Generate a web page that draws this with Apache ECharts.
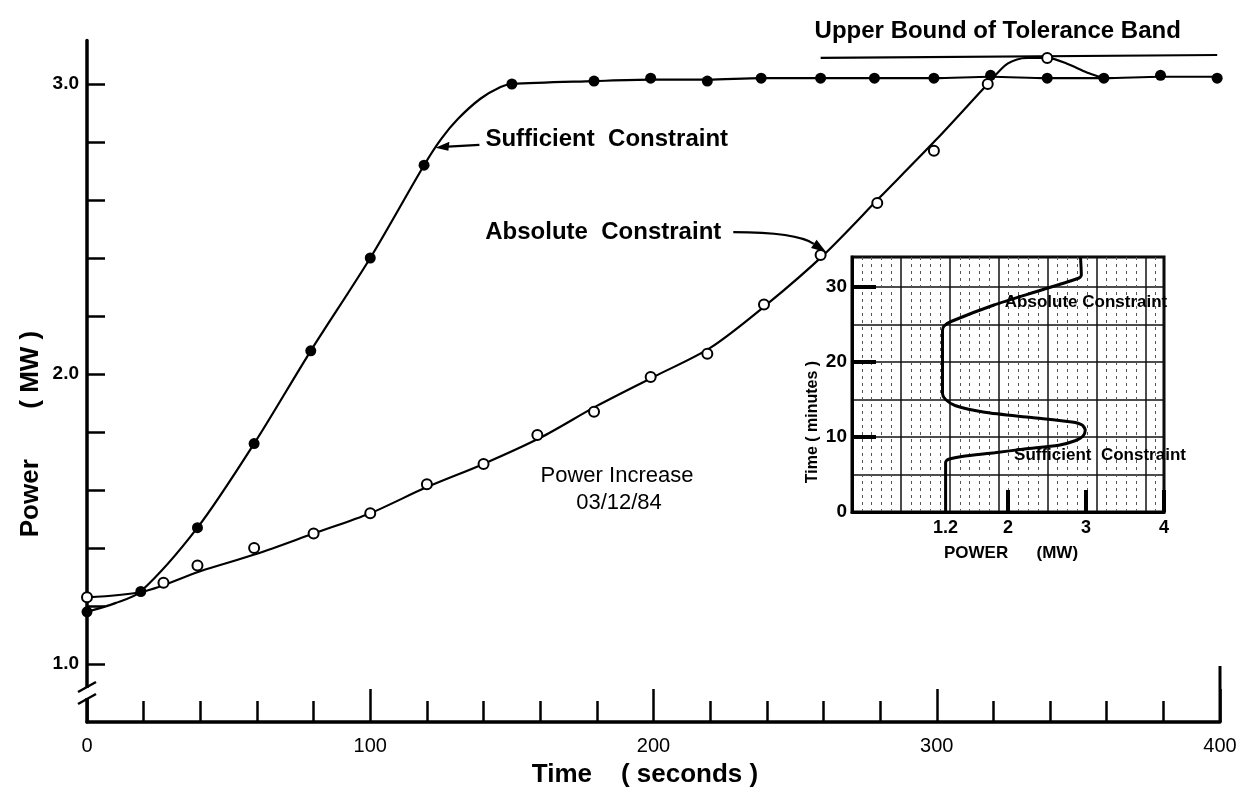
<!DOCTYPE html>
<html><head><meta charset="utf-8">
<script src="https://cdn.jsdelivr.net/npm/echarts@6/dist/echarts.min.js"></script>
<style>html,body{margin:0;padding:0;background:#fff}#c{width:1249px;height:800px}</style>
</head><body><div id="c"></div>
<script>
// ---------- data ----------
// Main chart: Power (MW) vs Time (seconds)
const suffTimes  = [0, 19, 39, 59, 79, 100, 119, 150, 179, 199, 219, 238, 259, 278, 299, 319, 339, 359, 379, 399];
const suffPower  = [1.18, 1.25, 1.47, 1.76, 2.08, 2.40, 2.72, 3.00, 3.01, 3.02, 3.01, 3.02, 3.02, 3.02, 3.02, 3.03, 3.02, 3.02, 3.03, 3.02];
const suffCurveTimes = [0, 10, 19, 39, 59, 79, 100, 119, 125, 131, 139, 146, 150, 179, 199, 219, 238, 259, 278, 299, 319, 339, 359, 379, 399];
const suffCurvePower = [1.18, 1.21, 1.25, 1.47, 1.76, 2.08, 2.40, 2.72, 2.81, 2.88, 2.95, 2.99, 3.00, 3.01, 3.015, 3.015, 3.02, 3.02, 3.02, 3.02, 3.025, 3.02, 3.02, 3.025, 3.025];

const absTimes  = [0, 27, 39, 59, 80, 100, 120, 140, 159, 179, 199, 219, 239, 259, 279, 299, 318, 339];
const absPower  = [1.23, 1.28, 1.34, 1.40, 1.45, 1.52, 1.62, 1.69, 1.79, 1.87, 1.99, 2.07, 2.24, 2.41, 2.59, 2.77, 3.00, 3.09];
const absCurveTimes = [0, 20, 40, 60, 80, 100, 120, 140, 160, 180, 200, 220, 240, 260, 280, 300, 318, 325, 332, 339, 346, 353, 359];
const absCurvePower = [1.23, 1.25, 1.32, 1.38, 1.45, 1.52, 1.61, 1.69, 1.78, 1.89, 1.99, 2.09, 2.24, 2.41, 2.61, 2.81, 3.00, 3.07, 3.09, 3.09, 3.07, 3.04, 3.02];

const toleranceTimes = [259, 399];
const tolerancePower = [3.09, 3.10];

const xLabelValues = [0, 100, 200, 300, 400];
const yTickValues  = [1.0, 1.2, 1.4, 1.6, 1.8, 2.0, 2.2, 2.4, 2.6, 2.8, 3.0];
const yLabelValues = [1.0, 2.0, 3.0];

// Inset: Time (minutes) vs POWER (MW)
const insetTime  = [0, 6.6, 7.0, 7.4, 7.9, 8.4, 8.9, 9.5, 10.1, 10.9, 11.6, 12.0, 12.6, 13.3, 14.2, 15.0, 15.8, 24.2, 24.8, 25.4, 27.6, 29.6, 31.2, 31.6, 33.9];
const insetPower = [1.2, 1.2, 1.23, 1.41, 1.83, 2.21, 2.65, 2.86, 2.96, 2.99, 2.95, 2.82, 2.30, 1.70, 1.32, 1.20, 1.16, 1.16, 1.18, 1.27, 1.82, 2.43, 2.91, 2.94, 2.93];
const insetXLabels = [1.2, 2, 3, 4];
const insetXTicks  = [2, 3, 4];
const insetYLabels = [0, 10, 20, 30];
const insetYTicks  = [10, 20, 30];

// ---------- chart ----------
const FONT = '"Liberation Sans", Arial, sans-serif';
const zip = (a, b) => a.map((v, i) => [v, b[i]]);
const chart = echarts.init(document.getElementById('c'), null, {renderer: 'canvas'});
const black = '#000';

chart.setOption({
  animation: false,
  backgroundColor: '#fff',
  textStyle: {fontFamily: FONT, color: black},
  grid: [
    {left: 87, right: 29, top: 40.5, height: 681.5, outerBoundsMode: 'none', containLabel: false},
    {left: 852, width: 312, top: 257, height: 255, show: true, borderColor: black, borderWidth: 3,
     backgroundColor: 'transparent', outerBoundsMode: 'none', containLabel: false}
  ],
  xAxis: [
    {gridIndex: 0, type: 'value', min: 0, max: 400, interval: 100, position: 'bottom',
     axisLine: {show: true, onZero: false, lineStyle: {color: black, width: 3.5}},
     axisTick: {show: true, inside: true, length: 33, lineStyle: {color: black, width: 2.5}},
     minorTick: {show: true, splitNumber: 5, length: 21, lineStyle: {color: black, width: 2.5}},
     axisLabel: {show: true, customValues: xLabelValues, color: black, fontSize: 20, fontFamily: FONT, margin: 14},
     splitLine: {show: false}},
    {gridIndex: 1, type: 'value', min: 0, max: 4, position: 'bottom',
     axisLine: {show: true, onZero: false, lineStyle: {color: black, width: 3}},
     axisTick: {show: true, inside: true, length: 22, customValues: insetXTicks, lineStyle: {color: black, width: 4}},
     axisLabel: {show: true, customValues: insetXLabels, formatter: v => String(v), color: black, fontSize: 18,
                 fontWeight: 'bold', fontFamily: FONT, margin: 7},
     splitLine: {show: false}},
    {gridIndex: 1, type: 'value', min: 0, max: 6.37, interval: 1, position: 'top',
     axisLine: {show: false}, axisTick: {show: false}, axisLabel: {show: false},
     minorTick: {show: false, splitNumber: 5},
     splitLine: {show: true, lineStyle: {color: '#111', width: 1.5}},
     minorSplitLine: {show: true, lineStyle: {color: '#555', width: 1, type: [3, 4]}}}
  ],
  yAxis: [
    {gridIndex: 0, type: 'value', min: 0.8, max: 3.15,
     axisLine: {show: true, onZero: false, lineStyle: {color: black, width: 3.5}},
     axisTick: {show: true, inside: true, length: 18, customValues: yTickValues, lineStyle: {color: black, width: 2.5}},
     axisLabel: {show: true, customValues: yLabelValues, formatter: v => Number(v).toFixed(1), color: black,
                 fontSize: 19, fontWeight: 'bold', fontFamily: FONT, margin: 8},
     splitLine: {show: false}},
    {gridIndex: 1, type: 'value', min: 0, max: 34,
     axisLine: {show: true, onZero: false, lineStyle: {color: black, width: 3}},
     axisTick: {show: true, inside: true, length: 24, customValues: insetYTicks, lineStyle: {color: black, width: 4}},
     axisLabel: {show: true, customValues: insetYLabels, color: black, fontSize: 19, fontWeight: 'bold', fontFamily: FONT, margin: 5},
     splitLine: {show: false}},
    {gridIndex: 1, type: 'value', min: 0, max: 34, interval: 5, position: 'right',
     axisLine: {show: false}, axisTick: {show: false}, axisLabel: {show: false},
     splitLine: {show: true, lineStyle: {color: '#111', width: 1.5}}}
  ],
  series: [
    {type: 'line', xAxisIndex: 0, yAxisIndex: 0, data: zip(suffCurveTimes, suffCurvePower), showSymbol: false,
     smooth: 0.3, lineStyle: {color: black, width: 2.2}, z: 3, silent: true},
    {type: 'line', xAxisIndex: 0, yAxisIndex: 0, data: zip(absCurveTimes, absCurvePower), showSymbol: false,
     smooth: 0.3, lineStyle: {color: black, width: 2.2}, z: 3, silent: true},
    {type: 'line', xAxisIndex: 0, yAxisIndex: 0, data: zip(toleranceTimes, tolerancePower), showSymbol: false,
     lineStyle: {color: black, width: 2.2}, z: 3, silent: true},
    {type: 'scatter', xAxisIndex: 0, yAxisIndex: 0, data: zip(suffTimes, suffPower), symbol: 'circle', symbolSize: 11,
     itemStyle: {color: black, opacity: 1}, z: 5, silent: true},
    {type: 'scatter', xAxisIndex: 0, yAxisIndex: 0, data: zip(absTimes, absPower), symbol: 'circle', symbolSize: 10,
     itemStyle: {color: '#fff', borderColor: black, borderWidth: 2, opacity: 1}, z: 6, silent: true},
    {type: 'line', xAxisIndex: 1, yAxisIndex: 1, data: zip(insetPower, insetTime), showSymbol: false,
     smooth: 0.25, lineStyle: {color: black, width: 3}, z: 4, silent: true}
  ]
});

// ---------- annotations (positions derived from the axes) ----------
const P = (x, y) => chart.convertToPixel({seriesIndex: 0}, [x, y]);
const g = [];
const line = (x1, y1, x2, y2, w) => ({type: 'line', shape: {x1, y1, x2, y2}, style: {stroke: black, lineWidth: w || 2}, z: 101});
const text = (t, x, y, font, align, rot) => ({type: 'text', x, y, rotation: rot || 0,
  style: {text: t, font, fill: black, align: align || 'center', verticalAlign: 'middle'}, z: 102});

// axis break on the power axis
const o = P(0, 0.8);
const yb = P(0, 0.9)[1];
const ax = o[0];
g.push({type: 'rect', shape: {x: ax - 6, y: yb - 5, width: 12, height: 10}, style: {fill: '#fff'}, z: 100});
g.push(line(ax - 9, yb - 1, ax + 9, yb - 11, 2.5));
g.push(line(ax - 9, yb + 11, ax + 9, yb + 1, 2.5));
// taller end tick at 400
const e = P(400, 0.8);
g.push(line(e[0], e[1], e[0], e[1] - 56, 3));

// Sufficient Constraint arrow
const ts = P(123, 2.78);
g.push(line(ts[0] + 8, ts[1] - 1, ts[0] + 44, ts[1] - 3, 2.2));
g.push({type: 'polygon', shape: {points: [[ts[0], ts[1]], [ts[0] + 14, ts[1] - 6], [ts[0] + 13, ts[1] + 3]]}, style: {fill: black}, z: 101});
g.push(text('Sufficient  Constraint', ts[0] + 50, ts[1] - 8, `bold 24px ${FONT}`, 'left'));

// Absolute Constraint arrow
const ta = P(261, 2.42);
const sx = ta[0] - 93, sy = ta[1] - 20, cx = ta[0] - 30, cy = ta[1] - 20;
let dx = ta[0] - cx, dy = ta[1] - cy; const dl = Math.hypot(dx, dy); dx /= dl; dy /= dl;
const bx = ta[0] - 15 * dx, by = ta[1] - 15 * dy;
g.push({type: 'bezierCurve', shape: {x1: sx, y1: sy, cpx1: cx, cpy1: cy, x2: bx, y2: by}, style: {stroke: black, lineWidth: 2.2, fill: null}, z: 101});
g.push({type: 'polygon', shape: {points: [[ta[0], ta[1]], [bx - 5 * dy, by + 5 * dx], [bx + 5 * dy, by - 5 * dx]]}, style: {fill: black}, z: 101});
g.push(text('Absolute  Constraint', sx - 12, sy, `bold 24px ${FONT}`, 'right'));

// Upper bound label
const tb = P(toleranceTimes[0], tolerancePower[0]);
g.push(text('Upper Bound of Tolerance Band', tb[0] - 6, tb[1] - 27, `bold 24px ${FONT}`, 'left'));

// centre caption
g.push(text('Power Increase', 617, 476, `22px ${FONT}`));
g.push(text('03/12/84', 619, 503, `22px ${FONT}`));

// axis titles
g.push(text('Power       ( MW )', 31, 434, `bold 26px ${FONT}`, 'center', Math.PI / 2));
g.push(text('Time    ( seconds )', 645, 775, `bold 26px ${FONT}`));

// inset texts
g.push(text('Absolute Constraint', 1086, 302, `bold 17px ${FONT}`));
g.push(text('Sufficient  Constraint', 1100, 455, `bold 17px ${FONT}`));
g.push(text('Time ( minutes )', 813, 422, `bold 16px ${FONT}`, 'center', Math.PI / 2));
g.push(text('POWER      (MW)', 1011, 553, `bold 17px ${FONT}`));

chart.setOption({graphic: {elements: g}});
</script>
</body></html>
